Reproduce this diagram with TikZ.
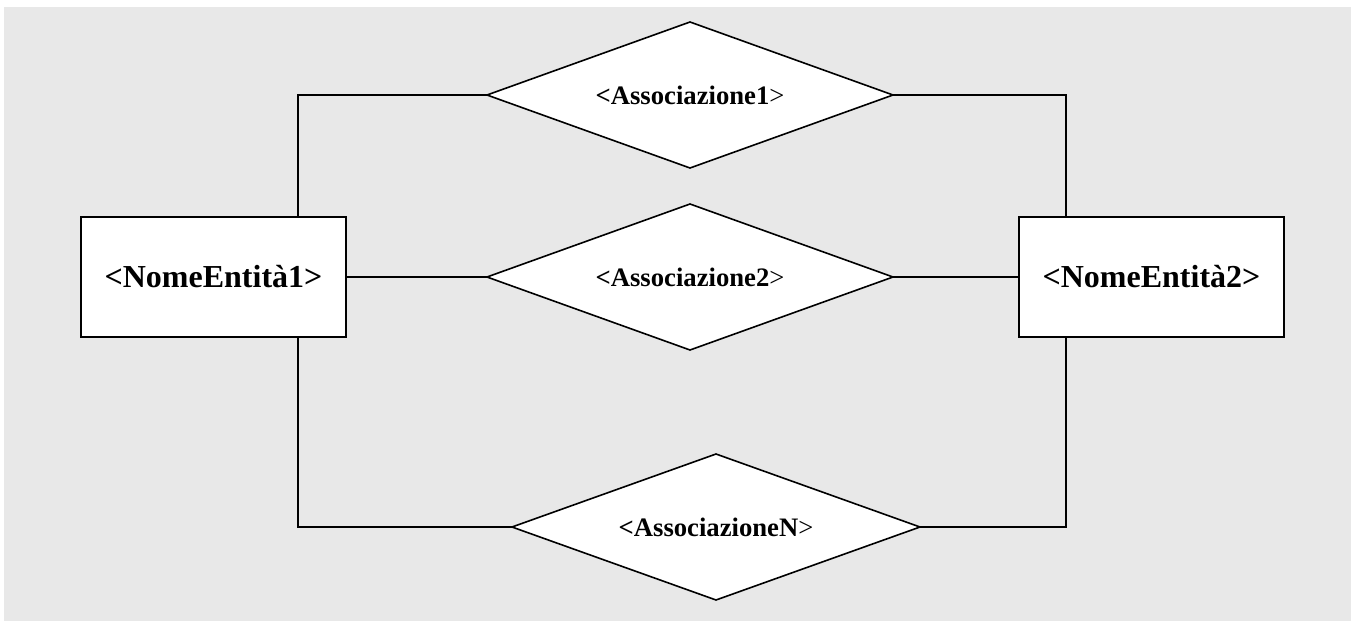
\documentclass[tikz,border=0pt]{standalone}
\usepackage{fontspec}
\setmainfont{Liberation Serif}
\usetikzlibrary{shapes.geometric}
\definecolor{panelgray}{HTML}{E8E8E8}
\begin{document}
\begin{tikzpicture}[x=0.75pt,y=-0.75pt,
  entity/.style={draw, fill=white, line width=1.5pt, rectangle,
    minimum width=198.75pt, minimum height=90pt, inner sep=0pt, outer sep=0pt,
    font=\fontsize{24}{28}\selectfont\bfseries},
  relation/.style={draw, fill=white, line width=1.2pt, diamond, aspect=2.78,
    minimum width=304.5pt, minimum height=109.5pt, inner sep=0pt, outer sep=0pt,
    font=\fontsize{20}{24}\selectfont},
  link/.style={line width=1.2pt}]
  % page and grey panel
  \useasboundingbox (0,0) rectangle (1354,621);
  \fill[white] (0,0) rectangle (1354,621);
  \fill[panelgray] (4,7) rectangle (1351,621);

  % entities
  \node[entity] (E1) at (213.5,277) {<NomeEntità1>};
  \node[entity] (E2) at (1151.5,277) {<NomeEntità2>};

  % relationships
  \node[relation] (D1) at (690,95) {\textbf{<Associazione1}>};
  \node[relation] (D2) at (690,277) {\textbf{<Associazione2}>};
  \node[relation, minimum width=306pt] (DN) at (716,527) {\textbf{<AssociazioneN}>};

  % x positions of the vertical runs
  \coordinate (lx) at (298,0);
  \coordinate (rx) at (1066,0);

  % connectors
  \draw[link] (E1.north -| lx) |- (D1.west);
  \draw[link] (D1.east) -| (E2.north -| rx);
  \draw[link] (E1.east) -- (D2.west);
  \draw[link] (D2.east) -- (E2.west);
  \draw[link] (E1.south -| lx) |- (DN.west);
  \draw[link] (DN.east) -| (E2.south -| rx);
\end{tikzpicture}
\end{document}
